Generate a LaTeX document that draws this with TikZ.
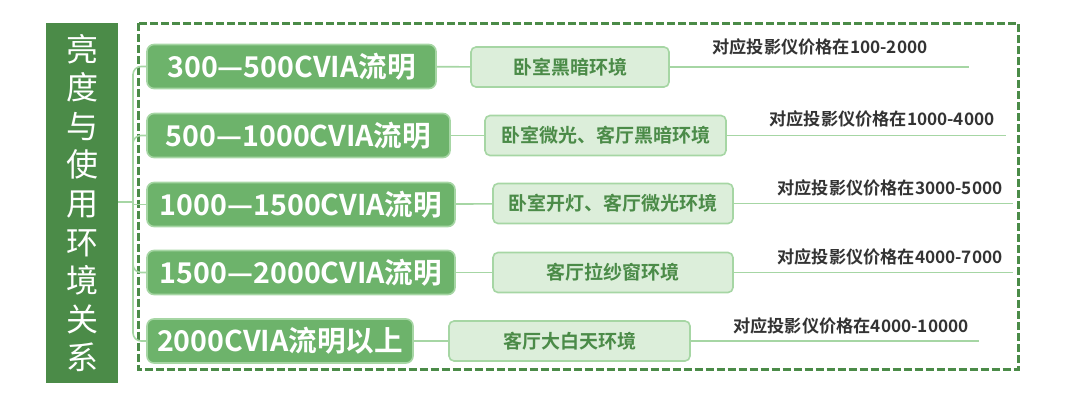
\documentclass[tikz,border=0pt]{standalone}
\usepackage{fontspec}
\setmainfont{Noto Sans CJK SC}[BoldFont=* Bold]
\usepackage{tikz}

\definecolor{darkgreen}{HTML}{4B8B48}
\definecolor{midgreen}{HTML}{6DB36B}
\definecolor{palegreen}{HTML}{DCEEDA}
\definecolor{edgegreen}{HTML}{A6D6A4}
\definecolor{pricegray}{HTML}{333333}

\begin{document}
\begin{tikzpicture}[x=0.5pt,y=-0.5pt,
   title/.style={fill=darkgreen,text=white,minimum width=36pt,minimum height=180pt,
                 align=center,font=\fontsize{16}{19.3}\selectfont},
   level/.style={fill=midgreen,draw=edgegreen,line width=0.8pt,rounded corners=3.5pt,
                 text=white,minimum height=22pt,font=\fontsize{14.3}{16}\selectfont\bfseries},
   scene/.style={fill=palegreen,draw=edgegreen,line width=0.8pt,rounded corners=2.5pt,
                 text=darkgreen,minimum height=20pt,font=\fontsize{9.5}{11}\selectfont\bfseries},
   price/.style={text=pricegray,inner sep=0pt,font=\fontsize{8.6}{10}\selectfont\bfseries},
   link/.style={draw=edgegreen,line width=0.8pt}]
   \useasboundingbox (0,0) rectangle (1080,401);
   % frame round the five levels
   \draw[darkgreen,line width=1.5pt,dash pattern=on 4pt off 1.5pt] (138,23.5) rectangle (1018,369);
   % title
   \node[title] (T) at (82,203) {亮\\度\\与\\使\\用\\环\\境\\关\\系};
   \coordinate (j) at (133,202);
   % brightness levels
   \node[level,minimum width=144.5pt] (m1) at (291.5,66.5) {300—500CVIA流明};
   \node[level,minimum width=151.5pt] (m2) at (298.5,135.5) {500—1000CVIA流明};
   \node[level,minimum width=154pt] (m3) at (301,204.5) {1000—1500CVIA流明};
   \node[level,minimum width=154pt] (m4) at (301,272.5) {1500—2000CVIA流明};
   \node[level,minimum width=133pt] (m5) at (280,341) {2000CVIA流明以上};
   % scenes
   \node[scene,minimum width=99pt] (s1) at (570,67) {卧室黑暗环境};
   \node[scene,minimum width=120.5pt] (s2) at (605.5,135.5) {卧室微光、客厅黑暗环境};
   \node[scene,minimum width=120pt] (s3) at (613,203.5) {卧室开灯、客厅微光环境};
   \node[scene,minimum width=120pt] (s4) at (613,272.5) {客厅拉纱窗环境};
   \node[scene,minimum width=120.5pt] (s5) at (569.5,341) {客厅大白天环境};
   % line ends
   \coordinate (p1) at (969,67);
   \coordinate (p2) at (1006,135.5);
   \coordinate (p3) at (1013,203.5);
   \coordinate (p4) at (1013,272.5);
   \coordinate (p5) at (979,341);
   % prices
   \node[price] (t1) at (820,47) {对应投影仪价格在100-2000};
   \node[price] (t2) at (882,119) {对应投影仪价格在1000-4000};
   \node[price] (t3) at (890,188) {对应投影仪价格在3000-5000};
   \node[price] (t4) at (890,257) {对应投影仪价格在4000-7000};
   \node[price] (t5) at (851,326) {对应投影仪价格在4000-10000};
   % tree
   \draw[link] (T.east |- j) -- (j);
   \draw[link,rounded corners=4pt] (j) |- (m1.west);
   \draw[link,rounded corners=4pt] (j) |- (m2.west);
   \draw[link] (j) -- (m3.west -| j) -- (m3.west);
   \draw[link,rounded corners=4pt] (j) |- (m4.west);
   \draw[link,rounded corners=4pt] (j) |- (m5.west);
   \draw[link] (m1) -- (s1);
   \draw[link] (m2) -- (s2);
   \draw[link] (m3) -- (s3);
   \draw[link] (m4) -- (s4);
   \draw[link] (m5) -- (s5);
   \draw[link] (s1.east) -- (p1);
   \draw[link] (s2.east) -- (p2);
   \draw[link] (s3.east) -- (p3);
   \draw[link] (s4.east) -- (p4);
   \draw[link] (s5.east) -- (p5);
  \end{tikzpicture}
\end{document}
